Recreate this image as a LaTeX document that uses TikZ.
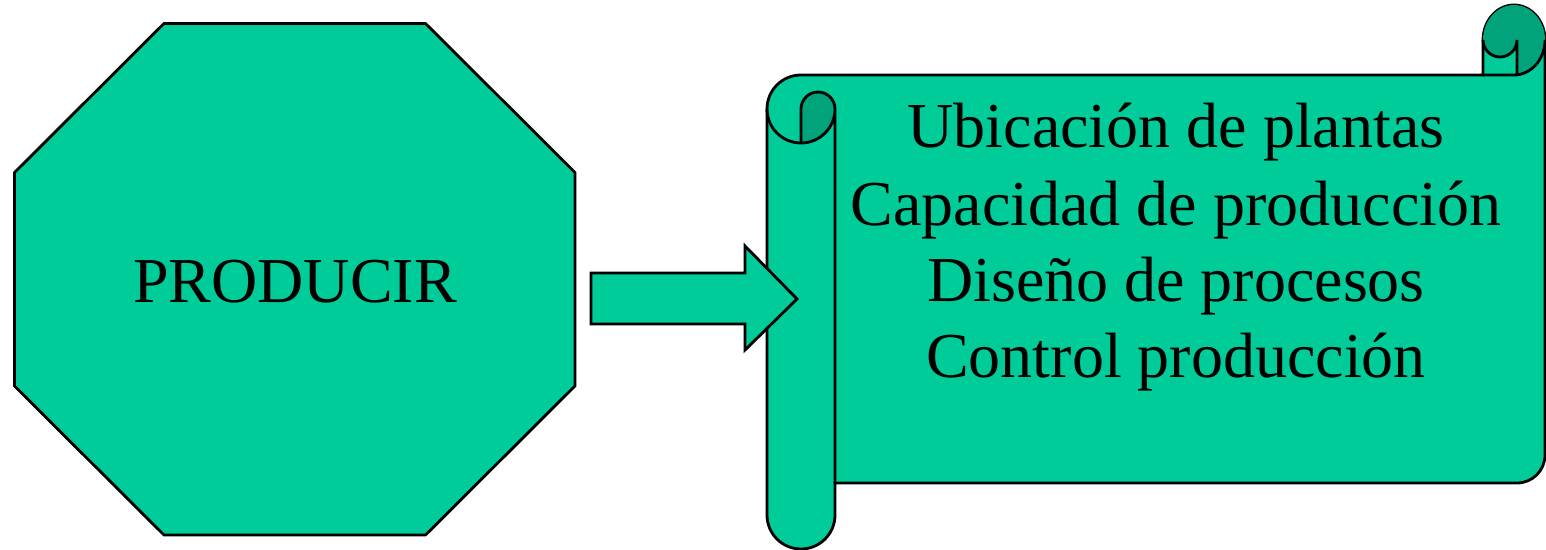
\documentclass[tikz,border=0pt]{standalone}
\usepackage{fontspec}
\setmainfont{Liberation Serif}
\definecolor{mintfill}{RGB}{0,204,153}
\definecolor{mintdark}{RGB}{0,163,122}
\tikzset{
  shapeline/.style={draw=black, line width=1.4pt, line join=miter},
  bigtext/.style={anchor=base, inner sep=0pt, font=\fontsize{32}{38}\selectfont}
}
\begin{document}
\begin{tikzpicture}[x=0.5pt,y=-0.5pt]
\useasboundingbox (0,0) rectangle (1546,550);
% octagon
\draw[shapeline, fill=mintfill] (164,23.5) -- (425.5,23.5) -- (575,172.5) -- (575,386) -- (425.5,535) -- (164,535) -- (14.5,386) -- (14.5,172.5) -- cycle;
\node[bigtext] (prod) at (295,302.5) {PRODUCIR};
% scroll body
\draw[shapeline, fill=mintfill] (767,109) arc[start angle=180, end angle=270, radius=34]
  -- (1483,75) -- (1483,40) arc[start angle=180, end angle=360, x radius=31, y radius=35]
  -- (1545,455) arc[start angle=0, end angle=90, radius=28]
  -- (835,483) -- (835,515) arc[start angle=0, end angle=180, radius=34] -- cycle;
% right curl
\fill[mintdark] (1517,75) -- (1517,40) arc[start angle=0, end angle=180, radius=17]
  arc[start angle=180, end angle=450, x radius=31, y radius=35] -- cycle;
\draw[shapeline] (1545,40) arc[start angle=0, end angle=90, x radius=31, y radius=35] -- (1483,75);
\draw[shapeline] (1517,75) -- (1517,40) arc[start angle=0, end angle=180, radius=17];
% left roll
\fill[mintdark] (801,143) -- (801,109) arc[start angle=180, end angle=360, radius=17]
  arc[start angle=0, end angle=90, radius=34] -- cycle;
\draw[shapeline] (767,109) arc[start angle=180, end angle=0, radius=34] -- (835,483);
\draw[shapeline] (801,143) -- (801,109) arc[start angle=180, end angle=360, radius=17];
% texts
\node[bigtext] (t1) at (1176,148) {Ubicación de plantas};
\node[bigtext] (t2) at (1176,226) {Capacidad de producción};
\node[bigtext] (t3) at (1176,302) {Diseño de procesos};
\node[bigtext] (t4) at (1176,378) {Control producción};
% block arrow
\draw[shapeline, fill=mintfill] (591,273) -- (745,273) -- (745,246) -- (797,299) -- (745,350) -- (745,324) -- (591,324) -- cycle;
\end{tikzpicture}
\end{document}
